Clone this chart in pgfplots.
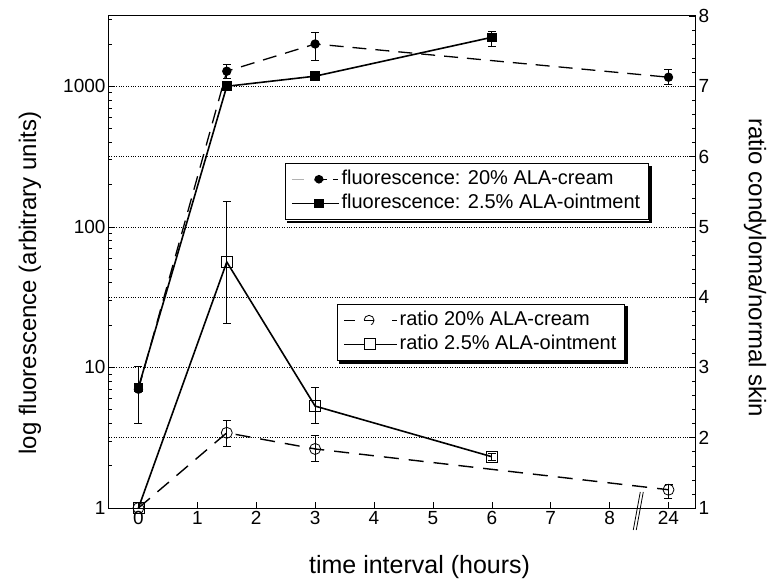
\documentclass[border=0pt]{standalone}
\usepackage{pgfplots}
\pgfplotsset{compat=1.18}
\usepackage{fontspec}
\setmainfont{Liberation Sans}
\begin{document}
\begin{tikzpicture}
\pgfplotsset{
  common/.style={
    width=586pt, height=492pt, scale only axis,
    xmin=-0.5, xmax=9.45,
    at={(0,0)}, anchor=south west,
    tick style={black, line width=0.6pt},
    major tick length=6pt, minor tick length=3.5pt,
    ticklabel style={font=\fontsize{19}{22}\selectfont},
    axis line style={line width=1pt},
    legend style={draw=black, line width=1pt, fill=white,
      font=\fontsize{20}{24}\selectfont,
      inner xsep=6pt, inner ysep=5pt,
      nodes={inner sep=2pt, text height=14pt, text depth=4pt},
      cells={anchor=west},
      row sep=2pt},
    every axis plot/.append style={black},
  },
  eb/.style={
    error bars/y dir=both, error bars/y explicit,
    error bars/error bar style={line width=0.8pt, solid},
    error bars/error mark options={rotate=90, mark size=4pt, line width=0.8pt, solid},
  }
}
% ---------------- left axis: fluorescence (log) ----------------
\begin{axis}[
  common,
  ymode=log, ymin=1, ymax=3162.28,
  xtick={0,1,2,3,4,5,6,7,8,9},
  xticklabels={0,1,2,3,4,5,6,7,8,24},
  xtick pos=bottom, ytick pos=left,
  ytick={1,10,100,1000}, yticklabels={1,10,100,1000},
  minor ytick={2,3,4,5,6,7,8,9,20,30,40,50,60,70,80,90,200,300,400,500,600,700,800,900,2000,3000},
  extra y ticks={3.16228,31.6228,316.228},
  extra y tick labels={},
  extra y tick style={grid=major, major tick length=0pt},
  ymajorgrids,
  major grid style={black, dotted, line width=0.6pt},
  xlabel={time interval (hours)},
  ylabel={log fluorescence (arbitrary units)},
  every axis x label/.style={at={(axis description cs:0.53,-0.1199)}, anchor=center, font=\fontsize{25}{30}\selectfont},
  every axis y label/.style={at={(axis description cs:-0.1348,0.457)}, rotate=90, anchor=center, font=\fontsize{24}{30}\selectfont},
  legend style={at={(axis description cs:0.300,0.701)}, anchor=north west, name=legA},
]
\addplot[eb, line width=1.3pt, dash pattern=on 14pt off 9pt, mark=*, mark size=4pt,
  mark options={solid, fill=black},
  legend image code/.code={
    \path[draw=none, fill=none] (0pt,-6pt) rectangle (47pt,6pt);
    \draw[gray!60, line width=1pt] (0pt,0pt) -- (12pt,0pt);
    \draw[black, line width=1pt] (27pt,0pt) -- (35pt,0pt);
    \draw[black, line width=1pt] (41pt,0pt) -- (46pt,0pt);
    \fill[black] (27pt,0pt) circle (4pt);
  }]
coordinates {
  (0,7.0)
  (1.5,1280) += (0,155) -= (0,140)
  (3,2000) += (0,430) -= (0,470)
  (9,1160) += (0,160) -= (0,127)
};
\addlegendentry{fluorescence: 20\% ALA-cream}
\addplot[eb, line width=1.6pt, solid, mark=square*, mark size=4pt,
  mark options={solid, fill=black},
  legend image code/.code={
    \path[draw=none, fill=none] (0pt,-6pt) rectangle (47pt,6pt);
    \draw[black, line width=1.3pt] (0pt,0pt) -- (47pt,0pt);
    \fill[black] (23pt,-4pt) rectangle (31pt,4pt);
  }]
coordinates {
  (0,7.2) += (0,2.9) -= (0,3.2)
  (1.5,1000) += (0,60) -= (0,60)
  (3,1180) += (0,70) -= (0,70)
  (6,2230) += (0,240) -= (0,310)
};
\addlegendentry{fluorescence: 2.5\% ALA-ointment}
\end{axis}
\fill[black] ([xshift=0.5pt,yshift=-2.5pt]legA.north east) rectangle ([xshift=3pt,yshift=-3pt]legA.south east);
\fill[black] ([xshift=2.5pt,yshift=-0.5pt]legA.south west) rectangle ([xshift=3pt,yshift=-3pt]legA.south east);
% ---------------- right axis: ratio (linear) ----------------
\begin{axis}[
  common,
  ymin=1, ymax=8,
  axis x line=none, axis y line*=right,
  ytick={1,2,3,4,5,6,7,8}, yticklabels={1,2,3,4,5,6,7,8},
  minor y tick num=4,
  ylabel={ratio condyloma/normal skin},
  every axis y label/.style={at={(axis description cs:1.1024,0.488)}, rotate=-90, anchor=center, font=\fontsize{24}{30}\selectfont},
  legend style={at={(axis description cs:0.389,0.415)}, anchor=north west, name=legB},
  clip=false,
]
\addplot[eb, line width=1.4pt, dash pattern=on 15pt off 10pt, mark=o, mark size=5.5pt,
  mark options={solid, line width=0.8pt},
  legend image code/.code={
    \path[draw=none, fill=none] (0pt,-6pt) rectangle (53pt,6pt);
    \draw[black, line width=1.2pt] (0pt,0pt) -- (11pt,0pt);
    \draw[black, line width=0.8pt] (20pt,0pt) -- (30pt,0pt);
    \draw[black, line width=0.8pt, fill=none] (25pt,0pt) circle (5pt);
    \draw[black, line width=1.2pt] (48pt,0pt) -- (53pt,0pt);
  }]
coordinates {
  (0,1)
  (1.5,2.07) += (0,0.17) -= (0,0.20)
  (3,1.84) += (0,0.19) -= (0,0.18)
  (9,1.26) += (0,0.07) -= (0,0.13)
};
\addlegendentry{ratio 20\% ALA-cream}
\addplot[eb, line width=1.6pt, solid, mark=square, mark size=5.5pt,
  mark options={solid, line width=0.8pt},
  legend image code/.code={
    \path[draw=none, fill=none] (0pt,-6pt) rectangle (53pt,6pt);
    \draw[black, line width=1pt] (0pt,0pt) -- (53pt,0pt);
    \draw[black, line width=0.8pt, fill=white] (20pt,-5.5pt) rectangle (31pt,5.5pt);
  }]
coordinates {
  (0,1)
  (1.5,4.50) += (0,0.86) -= (0,0.88)
  (3,2.45) += (0,0.26) -= (0,0.25)
  (6,1.73) += (0,0.05) -= (0,0.05)
};
\addlegendentry{ratio 2.5\% ALA-ointment}
\draw[line width=0.8pt] ([xshift=-4pt,yshift=-22pt]axis cs:8.47,1) -- ([xshift=3pt,yshift=16pt]axis cs:8.47,1);
\draw[line width=0.8pt] ([xshift=-1pt,yshift=-22pt]axis cs:8.47,1) -- ([xshift=6pt,yshift=16pt]axis cs:8.47,1);
\end{axis}
\fill[black] ([xshift=0.5pt,yshift=-2.5pt]legB.north east) rectangle ([xshift=3pt,yshift=-3pt]legB.south east);
\fill[black] ([xshift=2.5pt,yshift=-0.5pt]legB.south west) rectangle ([xshift=3pt,yshift=-3pt]legB.south east);
\pgfresetboundingbox
\path[use as bounding box] (-109pt,-74pt) rectangle (663pt,508pt);
\end{tikzpicture}
\end{document}
